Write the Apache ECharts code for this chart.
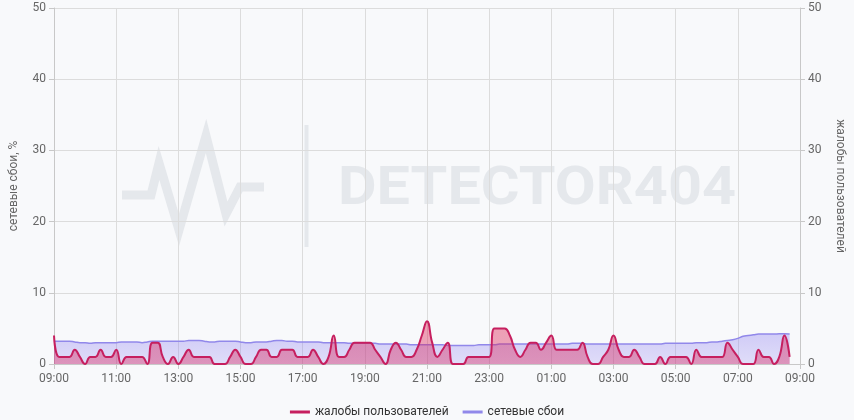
<!DOCTYPE html>
<html>
<head>
<meta charset="utf-8">
<script src="https://cdn.jsdelivr.net/npm/echarts@6/dist/echarts.min.js"></script>
<style>
html,body{margin:0;padding:0;background:#f8f9fb;}
#chart{width:854px;height:420px;}
</style>
</head>
<body>
<div id="chart"></div>
<script>
// 10-minute samples starting at 09:00
var xTickLabels = ['09:00','11:00','13:00','15:00','17:00','19:00','21:00','23:00','01:00','03:00','05:00','07:00','09:00'];
var yTicks = [0, 10, 20, 30, 40, 50];

var complaints = [
4,1,1,1,2,1,0,1,1,2,1,1,2,0,1,1,1,1,0,3,3,1,0,1,0,1,2,1,
1,1,1,0,0,0,1,2,1,0,0,1,2,2,1,1,2,2,2,1,1,1,2,1,0,1,4,1,
1,2,3,3,3,3,2,1,0,2,3,2,1,1,2,4,6,3,1,2,3,0,0,0,1,1,1,1,
1,5,5,5,4,2,1,2,3,3,2,3,4,2,2,2,2,2,3,1,0,0,1,2,4,2,1,1,
2,1,0,0,0,1,0,1,1,1,1,0,2,1,1,1,1,1,3,2,1,0,0,0,2,1,1,0,
1,4,1
];

var netFailures = [
3.2,3.2,3.2,3.2,3.1,3.0,3.0,2.9,3.0,3.0,3.0,3.0,
3.0,3.1,3.1,3.1,3.1,3.0,3.1,3.2,3.2,3.2,3.2,3.2,
3.2,3.2,3.3,3.3,3.3,3.2,3.1,3.1,3.2,3.2,3.2,3.2,
3.1,3.0,3.0,3.1,3.1,3.1,3.2,3.3,3.3,3.2,3.2,3.1,
3.1,3.1,3.1,3.1,3.0,3.0,3.0,3.0,3.0,2.9,2.9,2.9,
2.9,2.9,2.9,2.8,2.8,2.8,2.8,2.8,2.8,2.7,2.7,2.7,
2.7,2.7,2.7,2.7,2.6,2.6,2.6,2.6,2.6,2.6,2.7,2.7,
2.7,2.7,2.8,2.8,2.8,2.8,2.8,2.8,2.8,2.8,2.8,2.8,
2.8,2.8,2.8,2.8,2.9,2.9,2.9,2.8,2.8,2.8,2.8,2.8,
2.8,2.8,2.8,2.8,2.8,2.8,2.8,2.8,2.8,2.8,2.9,2.9,
2.9,2.9,2.9,2.9,3.0,3.0,3.0,3.1,3.1,3.2,3.3,3.4,
3.6,3.9,4.0,4.1,4.2,4.2,4.2,4.2,4.25,4.25,4.2
];

var seriesNames = ['жалобы пользователей', 'сетевые сбои'];
var axisNames = ['сетевые сбои, %', 'жалобы пользователей'];

function pairs(arr){ return arr.map(function(v,i){ return [i, v]; }); }

var chart = echarts.init(document.getElementById('chart'), null, {renderer:'canvas'});
var labelColor = '#666';
var gridColor = '#dcdcdc';
var yAxisCommon = {
  type:'value', min: yTicks[0], max: yTicks[yTicks.length-1], interval: 10,
  nameLocation:'middle', nameGap: 34,
  nameTextStyle:{color:labelColor, fontSize:12, fontFamily:'Roboto, Arial, sans-serif'},
  axisLine:{show:true, lineStyle:{color:'#c8c8c8'}},
  axisTick:{show:true, length:5, lineStyle:{color:'#c8c8c8'}},
  axisLabel:{color:labelColor, fontSize:12, fontFamily:'Roboto, Arial, sans-serif'},
  splitLine:{show:true, lineStyle:{color:gridColor}}
};

chart.setOption({
  backgroundColor:'#f8f9fb',
  animation:false,
  grid:{left:51, right:47, top:8, bottom:56, containLabel:false},
  graphic:[
    {type:'polyline', z:-100, silent:true,
     shape:{points:[[122,195],[151,195],[159,163],[179,230],[206,136],[226,214],[240,187],[264,187]]},
     style:{stroke:'#e5e8ec', lineWidth:9, fill:null, lineJoin:'miter'}},
    {type:'rect', z:-100, silent:true, shape:{x:304.5, y:125, width:4, height:122}, style:{fill:'#e5e8ec'}},
    {type:'text', z:-100, silent:true, x:338, y:190, scaleX:1.1,
     style:{text:'DETECTOR404', font:'bold 54px Roboto', fill:'#e5e8ec', textVerticalAlign:'middle', textAlign:'left'}}
  ],
  legend:{
    data:[seriesNames[0], seriesNames[1]],
    top:401, left:'center', icon:'rect', itemWidth:20, itemHeight:3, itemGap:14,
    textStyle:{color:'#333', fontSize:12, fontFamily:'Roboto, Arial, sans-serif'}
  },
  xAxis:{
    type:'value', min:0, max:144, interval:12,
    axisLine:{show:true, lineStyle:{color:'#c8c8c8'}},
    axisTick:{show:true, length:5, lineStyle:{color:'#c8c8c8'}},
    axisLabel:{color:labelColor, fontSize:12, margin:9, fontFamily:'Roboto, Arial, sans-serif',
      formatter:function(v){ return xTickLabels[Math.round(v/12)]; }},
    splitLine:{show:true, lineStyle:{color:gridColor}}
  },
  yAxis:[
    Object.assign({}, yAxisCommon, {position:'left', name:axisNames[0], nameRotate:90}),
    Object.assign({}, yAxisCommon, {position:'right', name:axisNames[1], nameRotate:-90})
  ],
  series:[
    {
      name:seriesNames[1], type:'line', yAxisIndex:0, smooth:true, symbol:'none',
      data:pairs(netFailures), z:2,
      lineStyle:{color:'#9188ea', width:1.5},
      itemStyle:{color:'#9188ea'},
      areaStyle:{color:new echarts.graphic.LinearGradient(0,0,0,1,[
        {offset:0, color:'rgba(140,125,240,0.52)'},
        {offset:1, color:'rgba(140,125,240,0.32)'}])}
    },
    {
      name:seriesNames[0], type:'line', yAxisIndex:1, smooth:true, symbol:'none',
      data:pairs(complaints), z:3,
      lineStyle:{color:'#c61f5f', width:2},
      itemStyle:{color:'#c61f5f'},
      areaStyle:{color:new echarts.graphic.LinearGradient(0,0,0,1,[
        {offset:0, color:'rgba(225,40,85,0.62)'},
        {offset:1, color:'rgba(215,30,90,0.55)'}])}
    }
  ]
});
</script>
</body>
</html>
